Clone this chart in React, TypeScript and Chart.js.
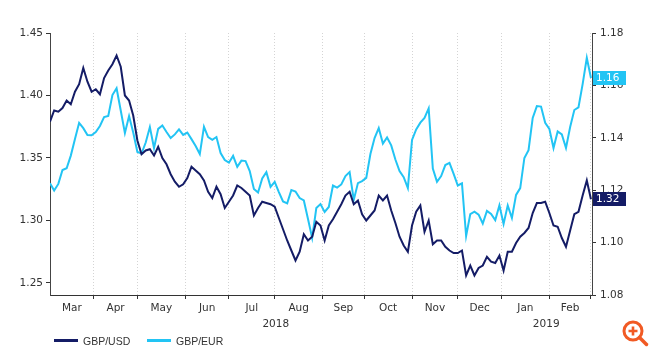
import React, { useEffect, useRef } from 'react';
import { Chart, registerables } from 'chart.js';

Chart.register(...registerables);

// Business-day index: 0 = 1 Mar 2018
const monthLabels = ['Mar', 'Apr', 'May', 'Jun', 'Jul', 'Aug', 'Sep', 'Oct', 'Nov', 'Dec', 'Jan', 'Feb'];
const monthStarts = [0, 22, 43, 66, 87, 109, 132, 152, 175, 197, 218, 241, 261];
const yearLabels = ['2018', '2019'];
const yearStarts = [0, 218, 261];
const usdTicks = [1.25, 1.3, 1.35, 1.4, 1.45];
const eurTicks = [1.08, 1.1, 1.12, 1.14, 1.16, 1.18];
const firstDay = 1;
const dayStep = 2;

const gbpUsd = [
  1.379, 1.388, 1.387, 1.390, 1.396, 1.393, 1.403, 1.409, 1.422, 1.411,
  1.403, 1.405, 1.401, 1.414, 1.420, 1.425, 1.432, 1.423, 1.400, 1.396,
  1.384, 1.364, 1.353, 1.356, 1.357, 1.352, 1.359, 1.350, 1.345, 1.337,
  1.331, 1.327, 1.329, 1.334, 1.343, 1.340, 1.337, 1.332, 1.323, 1.318,
  1.327, 1.321, 1.310, 1.315, 1.320, 1.328, 1.326, 1.323, 1.320, 1.304,
  1.310, 1.315, 1.314, 1.313, 1.311, 1.302, 1.293, 1.284, 1.276, 1.268,
  1.275, 1.289, 1.284, 1.287, 1.299, 1.296, 1.284, 1.296, 1.301, 1.307,
  1.313, 1.320, 1.323, 1.313, 1.316, 1.305, 1.300, 1.304, 1.308, 1.320,
  1.316, 1.320, 1.308, 1.298, 1.287, 1.280, 1.275, 1.296, 1.307, 1.312,
  1.291, 1.300, 1.281, 1.284, 1.284, 1.279, 1.276, 1.274, 1.274, 1.276,
  1.256, 1.264, 1.256, 1.262, 1.264, 1.271, 1.267, 1.266, 1.272, 1.260,
  1.275, 1.275, 1.282, 1.287, 1.290, 1.294, 1.306, 1.314, 1.314, 1.315,
  1.306, 1.296, 1.295, 1.286, 1.279, 1.292, 1.305, 1.307, 1.320, 1.332,
  1.317,
];

const gbpEur = [
  1.1227, 1.1199, 1.1224, 1.1277, 1.1284, 1.1332, 1.1395, 1.1457, 1.1437, 1.1411,
  1.1410, 1.1422, 1.1445, 1.1479, 1.1483, 1.1563, 1.1589, 1.1504, 1.1418, 1.1483,
  1.1420, 1.1346, 1.1340, 1.1382, 1.1441, 1.1361, 1.1434, 1.1447, 1.1422, 1.1399,
  1.1413, 1.1432, 1.1411, 1.1420, 1.1395, 1.1369, 1.1338, 1.1442, 1.1403, 1.1392,
  1.1403, 1.1342, 1.1315, 1.1305, 1.1331, 1.1289, 1.1313, 1.1311, 1.1273, 1.1205,
  1.1191, 1.1245, 1.1269, 1.1213, 1.1232, 1.1193, 1.1157, 1.1150, 1.1201, 1.1195,
  1.1170, 1.1161, 1.1090, 1.1018, 1.1132, 1.1147, 1.1117, 1.1136, 1.1218, 1.1210,
  1.1222, 1.1254, 1.1269, 1.1163, 1.1227, 1.1235, 1.1247, 1.1338, 1.1399, 1.1437,
  1.1378, 1.1401, 1.1371, 1.1317, 1.1273, 1.1250, 1.1208, 1.1392, 1.1432, 1.1458,
  1.1476, 1.1512, 1.1283, 1.1232, 1.1254, 1.1296, 1.1304, 1.1262, 1.1218, 1.1226,
  1.1025, 1.1109, 1.1118, 1.1107, 1.1073, 1.1121, 1.1109, 1.1086, 1.1142, 1.1071,
  1.1142, 1.1094, 1.1182, 1.1208, 1.1323, 1.1353, 1.1476, 1.1521, 1.1519, 1.1457,
  1.1434, 1.1361, 1.1424, 1.1413, 1.1361, 1.1441, 1.1506, 1.1516, 1.1605, 1.1705,
  1.1628,
];

const NAVY = '#141c66';
const CYAN = '#22c4f4';
const FONT = '"DejaVu Sans", Verdana, sans-serif';
const X_MIN = 1;
const X_MAX = 261.5;

function centers(starts: number[]): number[] {
  const out: number[] = [];
  for (let i = 0; i < starts.length - 1; i++) {
    const a = Math.max(starts[i], X_MIN);
    const b = Math.min(starts[i + 1], X_MAX);
    out.push((a + b) / 2);
  }
  return out;
}

const lastValuePlugin = {
  id: 'lastValue',
  afterDraw(chart: any) {
    const ctx = chart.ctx;
    const area = chart.chartArea;
    const order = [1, 0];
    order.forEach((i) => {
      const ds = chart.data.datasets[i];
      const scale = chart.scales[ds.yAxisID];
      const last = ds.data[ds.data.length - 1].y;
      const y = scale.getPixelForValue(last);
      ctx.save();
      ctx.fillStyle = ds.borderColor;
      ctx.fillRect(area.right + 1, Math.round(y - 7), 33, 14);
      ctx.fillStyle = '#ffffff';
      ctx.font = `10.5px ${FONT}`;
      ctx.textBaseline = 'middle';
      ctx.textAlign = 'left';
      ctx.fillText(last.toFixed(2), area.right + 4, Math.round(y - 7) + 7.5);
      ctx.restore();
    });
  },
};

export default function App() {
  const ref = useRef<HTMLCanvasElement | null>(null);

  useEffect(() => {
    if (!ref.current) return;
    const monthCenters = centers(monthStarts);
    const yearCenters = centers(yearStarts);
    const chart = new Chart(ref.current, {
      type: 'line',
      data: {
        datasets: [
          {
            label: 'GBP/USD',
            data: gbpUsd.map((v, i) => ({ x: firstDay + i * dayStep, y: v })),
            borderColor: NAVY,
            backgroundColor: NAVY,
            borderWidth: 2,
            pointRadius: 0,
            tension: 0,
            xAxisID: 'x',
            yAxisID: 'y',
          },
          {
            label: 'GBP/EUR',
            data: gbpEur.map((v, i) => ({ x: firstDay + i * dayStep, y: v })),
            borderColor: CYAN,
            backgroundColor: CYAN,
            borderWidth: 2,
            pointRadius: 0,
            tension: 0,
            xAxisID: 'x',
            yAxisID: 'y1',
          },
        ],
      },
      options: {
        responsive: false,
        maintainAspectRatio: false,
        animation: false,
        layout: { padding: { top: 33, bottom: 15, left: 0, right: 0 } },
        font: { family: FONT, size: 10.5 },
        plugins: { legend: { display: false }, tooltip: { enabled: false } },
        scales: {
          x: {
            type: 'linear',
            position: 'bottom',
            weight: 0,
            min: X_MIN,
            max: X_MAX,
            afterBuildTicks: (s: any) => {
              s.ticks = monthStarts.filter((v) => v > X_MIN && v < X_MAX).map((v) => ({ value: v }));
            },
            ticks: { display: false },
            grid: {
              display: true,
              drawOnChartArea: true,
              drawTicks: true,
              tickLength: 4,
              color: '#d4d4d4',
              tickColor: '#333333',
              tickBorderDash: [],
            },
            border: { display: true, color: '#333333', width: 1, dash: [1, 2] },
            afterFit: (s: any) => {
              s.height = 4;
            },
          },
          xm: {
            type: 'linear',
            position: 'bottom',
            weight: 1,
            min: X_MIN,
            max: X_MAX,
            afterBuildTicks: (s: any) => {
              s.ticks = monthCenters.map((v) => ({ value: v }));
            },
            ticks: {
              autoSkip: false,
              maxRotation: 0,
              padding: 3,
              color: '#333333',
              font: { family: FONT, size: 10.5 },
              callback: (_v: any, i: number) => monthLabels[i],
            },
            grid: { display: false, drawTicks: false },
            border: { display: false },
            afterFit: (s: any) => {
              s.height = 16;
            },
          },
          xy: {
            type: 'linear',
            position: 'bottom',
            weight: 2,
            min: X_MIN,
            max: X_MAX,
            afterBuildTicks: (s: any) => {
              s.ticks = yearCenters.map((v) => ({ value: v }));
            },
            ticks: {
              autoSkip: false,
              maxRotation: 0,
              padding: 3,
              color: '#333333',
              font: { family: FONT, size: 10.5 },
              callback: (_v: any, i: number) => yearLabels[i],
            },
            grid: { display: false, drawTicks: false },
            border: { display: false },
            afterFit: (s: any) => {
              s.height = 18;
            },
          },
          y: {
            type: 'linear',
            position: 'left',
            min: 1.2404,
            max: 1.45,
            afterBuildTicks: (s: any) => {
              s.ticks = usdTicks.map((v) => ({ value: v }));
            },
            ticks: {
              padding: 3,
              color: '#333333',
              font: { family: FONT, size: 10.5 },
              callback: (v: any) => Number(v).toFixed(2),
            },
            grid: {
              display: true,
              drawOnChartArea: false,
              drawTicks: true,
              tickLength: 4,
              tickColor: '#333333',
              color: '#333333',
            },
            border: { display: true, color: '#444444', width: 1 },
            afterFit: (s: any) => {
              s.width = 50;
            },
          },
          y1: {
            type: 'linear',
            position: 'right',
            min: 1.08,
            max: 1.18,
            afterBuildTicks: (s: any) => {
              s.ticks = eurTicks.map((v) => ({ value: v }));
            },
            ticks: {
              padding: 4,
              color: '#333333',
              font: { family: FONT, size: 10.5 },
              callback: (v: any) => Number(v).toFixed(2),
            },
            grid: {
              display: true,
              drawOnChartArea: false,
              drawTicks: true,
              tickLength: 4,
              tickColor: '#333333',
              color: '#333333',
            },
            border: { display: true, color: '#444444', width: 1 },
            afterFit: (s: any) => {
              s.width = 58;
            },
          },
        },
      } as any,
      plugins: [lastValuePlugin],
    });
    return () => chart.destroy();
  }, []);

  const legendText: React.CSSProperties = {
    position: 'absolute',
    font: '10.5px "Liberation Sans", Arial, sans-serif',
    color: '#333333',
    lineHeight: '16px',
    whiteSpace: 'nowrap',
  };

  return (
    <div style={{ position: 'absolute', left: 0, top: 0, width: 650, height: 348, background: '#ffffff', overflow: 'hidden' }}>
      <canvas ref={ref} width={650} height={348} style={{ display: 'block' }} />
      <div style={{ position: 'absolute', left: 54, top: 338.5, width: 24, height: 3, background: NAVY }} />
      <div style={{ ...legendText, left: 83, top: 333 }}>GBP/USD</div>
      <div style={{ position: 'absolute', left: 147, top: 338.5, width: 24, height: 3, background: CYAN }} />
      <div style={{ ...legendText, left: 176, top: 333 }}>GBP/EUR</div>
      <svg style={{ position: 'absolute', left: 619, top: 317 }} width={31} height={31}>
        <circle cx={14} cy={14} r={9} fill="none" stroke="#f15a24" strokeWidth={3} />
        <path d="M14 9.5v9M9.5 14h9" stroke="#f15a24" strokeWidth={2.6} />
        <path d="M20.5 20.5l7 7" stroke="#f15a24" strokeWidth={3.5} strokeLinecap="round" />
      </svg>
    </div>
  );
}
